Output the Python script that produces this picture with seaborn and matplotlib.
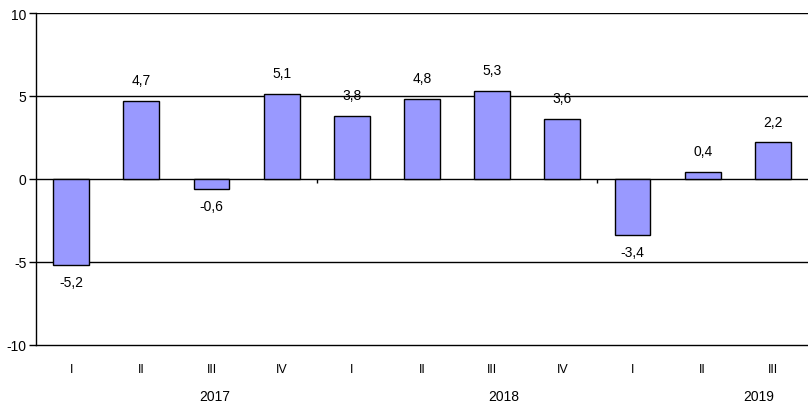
import matplotlib
matplotlib.use("Agg")
import matplotlib.pyplot as plt
import pandas as pd
import seaborn as sns

# Quarterly values, 2017 Q1 .. 2019 Q3
quarters = ['I', 'II', 'III', 'IV', 'I', 'II', 'III', 'IV', 'I', 'II', 'III']
years = ['2017'] * 4 + ['2018'] * 4 + ['2019'] * 3
values = [-5.2, 4.7, -0.6, 5.1, 3.8, 4.8, 5.3, 3.6, -3.4, 0.4, 2.2]
year_labels = ['2017', '2018', '2019']
year_label_pos = [2.05, 6.17, 9.8]

df = pd.DataFrame({'key': [f'{y} {q}' for y, q in zip(years, quarters)],
                   'value': values})

sns.set_style('white')
plt.rcParams['font.family'] = ['Liberation Sans', 'DejaVu Sans']
plt.rcParams['text.color'] = 'black'
plt.rcParams['xtick.color'] = 'black'
plt.rcParams['ytick.color'] = 'black'
plt.rcParams['axes.labelcolor'] = 'black'

fig = plt.figure(figsize=(8.08, 4.06), dpi=100)
ax = fig.add_axes([36 / 808, 1 - 346 / 406, 1 - 36 / 808, (346 - 14) / 406])

sns.barplot(data=df, x='key', y='value', color='#9999ff', saturation=1,
            edgecolor='black', linewidth=1, width=0.51, ax=ax, zorder=3)

ax.set_ylim(-10, 10)
ax.set_xlim(-0.5, len(values) - 0.5)
ax.set_yticks([-10, -5, 0, 5, 10])
ax.set_yticklabels(['-10', '-5', '0', '5', '10'], fontsize=10)
for y in [-5, 0, 5, 10]:
    ax.axhline(y, color='black', linewidth=1, zorder=2)

# small separator ticks on the zero line between years
bounds = [i - 0.5 for i in range(1, len(years)) if years[i] != years[i - 1]]
ax.vlines(bounds, -0.25, 0, color='black', linewidth=1, zorder=2)

ax.set_xticks(range(len(values)))
ax.set_xticklabels(quarters, fontsize=9)
ax.tick_params(axis='x', length=0, pad=13)
ax.tick_params(axis='y', length=5, width=1, color='black', pad=2, left=True)
ax.set_xlabel('')
ax.set_ylabel('')

for side in ['top', 'right']:
    ax.spines[side].set_visible(False)
for side in ['left', 'bottom']:
    ax.spines[side].set_color('black')
    ax.spines[side].set_linewidth(1)

# value labels with decimal comma
for i, v in enumerate(values):
    txt = f'{v:.1f}'.replace('.', ',')
    if v >= 0:
        ax.annotate(txt, (i, v), xytext=(0, 10), textcoords='offset points',
                    ha='center', va='bottom', fontsize=10)
    else:
        ax.annotate(txt, (i, v), xytext=(0, -7), textcoords='offset points',
                    ha='center', va='top', fontsize=10)

# year labels under the quarter row
for lab, xp in zip(year_labels, year_label_pos):
    ax.text(xp, -(397 - 346) / 332, lab, transform=ax.get_xaxis_transform(),
            ha='center', va='center', fontsize=10)

fig.savefig('out.png', dpi=100)
